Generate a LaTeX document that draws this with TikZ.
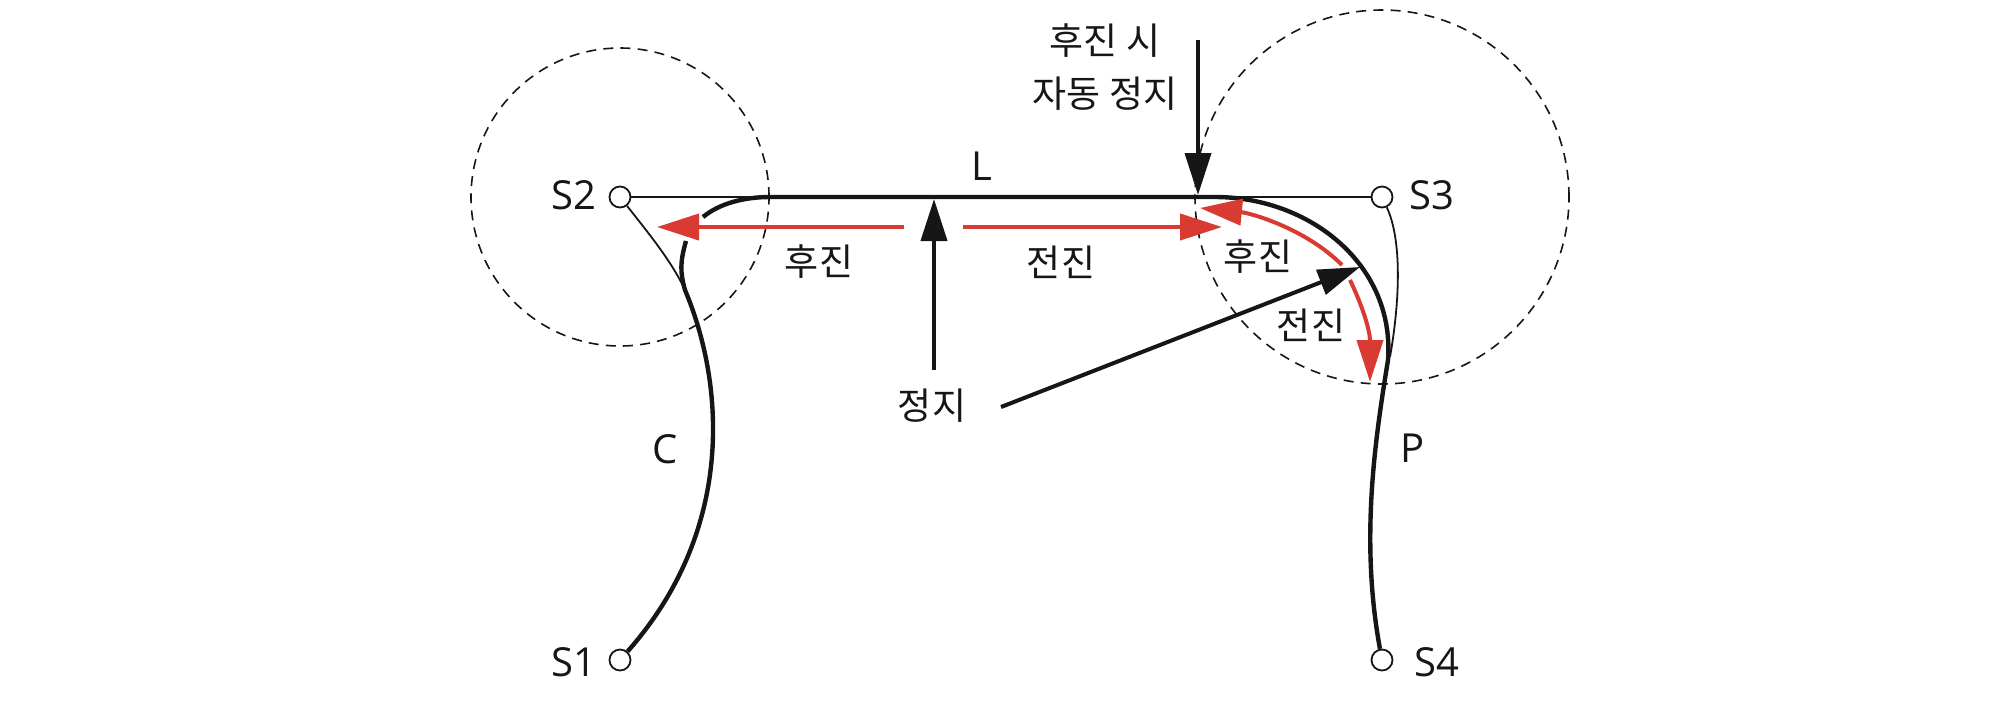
\documentclass[tikz,border=0pt]{standalone}
\usepackage{fontspec}
\setmainfont{Noto Sans CJK KR}
\newfontfamily\latinfont{Open Sans}
\usetikzlibrary{arrows.meta}
\definecolor{arrowred}{HTML}{D93A32}
\definecolor{inkblack}{HTML}{161616}
\tikzset{
    station/.style={circle, draw=inkblack, line width=0.9pt, fill=white, inner sep=0pt, minimum size=10.5pt},
    reach/.style={draw=inkblack, line width=0.8pt, dash pattern=on 5pt off 3.6pt},
    thinline/.style={draw=inkblack, line width=0.9pt},
    trackline/.style={draw=inkblack, line width=2.2pt},
    blackarrow/.style={draw=inkblack, line width=2pt, -{Triangle[length=21pt,width=13pt,fill=inkblack]}},
    redarrow/.style={draw=arrowred, line width=2pt, -{Triangle[length=21pt,width=13pt,fill=arrowred]}},
    tag/.style={font=\fontsize{18.5}{26.5}\selectfont, text=inkblack, inner sep=0pt, align=center},
    stationtag/.style={font=\fontsize{20}{25}\latinfont, text=inkblack, inner sep=0pt}
}
\begin{document}
\begin{tikzpicture}[x=0.5pt, y=-0.5pt]
    \useasboundingbox (0,0) rectangle (2008,709);

    % stations
    \coordinate (c2) at (620,197);
    \coordinate (c3) at (1382,197);
    \draw[reach] (c2) circle[radius=74.5pt];
    \draw[reach] (c3) circle[radius=93.5pt];
    \node[station] (s1) at (620,660) {};
    \node[station] (s2) at (620,197) {};
    \node[station] (s3) at (1382,197) {};
    \node[station] (s4) at (1382,660) {};
    \node[stationtag] (s1tag) at (574,662) {S1};
    \node[stationtag] (s2tag) at (574,195) {S2};
    \node[stationtag] (s3tag) at (1432,195) {S3};
    \node[stationtag] (s4tag) at (1437,662) {S4};

    % free ends
    \coordinate (leftbranch) at (703,217);
    \coordinate (lineleft) at (770,197);
    \coordinate (lineright) at (1215,197);
    \coordinate (curveend) at (1388,360);
    \coordinate (lowbranch) at (686,241);
    \coordinate (cjoin) at (685,290);
    \coordinate (pjoin) at (1390,357);

    % tracks
    \draw[thinline] (s2) -- (s3);
    \draw[thinline] (s2) .. controls (650,235) and (672,262) .. (cjoin);
    \draw[thinline] (s3) .. controls (1402,240) and (1400,300) .. (pjoin);
    \draw[trackline] (leftbranch) .. controls (720,203) and (745,197) .. (lineleft) -- (lineright)
        .. controls (1310,197) and (1395,265) .. (curveend)
        .. controls (1375,440) and (1360,540) .. (s4);
    \draw[trackline] (lowbranch) .. controls (680,262) and (680,272) .. (cjoin)
        .. controls (725,385) and (735,530) .. (s1);

    % motion arrows
    \coordinate (backstart) at (904,227);
    \coordinate (backend) at (657,227);
    \coordinate (forthstart) at (963,227);
    \coordinate (forthend) at (1222,227);
    \coordinate (arcbackstart) at (1342,265);
    \coordinate (arcbackend) at (1200,208);
    \coordinate (arcforthstart) at (1350,280);
    \coordinate (arcforthend) at (1370,382);
    \draw[redarrow] (backstart) -- (backend);
    \draw[redarrow] (forthstart) -- (forthend);
    \draw[redarrow] (arcbackstart) .. controls (1305,228) and (1250,213) .. (arcbackend);
    \draw[redarrow] (arcforthstart) .. controls (1362,305) and (1370,330) .. (arcforthend);

    % stop arrows
    \coordinate (autotop) at (1198,40);
    \coordinate (autotip) at (1198,195);
    \coordinate (stoptop) at (934,370);
    \coordinate (stoptip) at (934,199);
    \coordinate (diagstart) at (1001,407);
    \coordinate (diagtip) at (1360,267);
    \draw[blackarrow] (autotop) -- (autotip);
    \draw[blackarrow] (stoptop) -- (stoptip);
    \draw[blackarrow] (diagstart) -- (diagtip);

    % labels
    \node[stationtag] (ltag) at (982,166) {L};
    \node[stationtag] (ctag) at (665,449) {C};
    \node[stationtag] (ptag) at (1413,448) {P};
    \node[tag] (backtag) at (819,262) {후진};
    \node[tag] (forthtag) at (1061,262) {전진};
    \node[tag] (arcbacktag) at (1258,257) {후진};
    \node[tag] (arcforthtag) at (1311,325) {전진};
    \node[tag] (stoptag) at (932,406) {정지};
    \node[tag] (autotag) at (1105,67) {후진 시\\자동 정지};
\end{tikzpicture}
\end{document}
